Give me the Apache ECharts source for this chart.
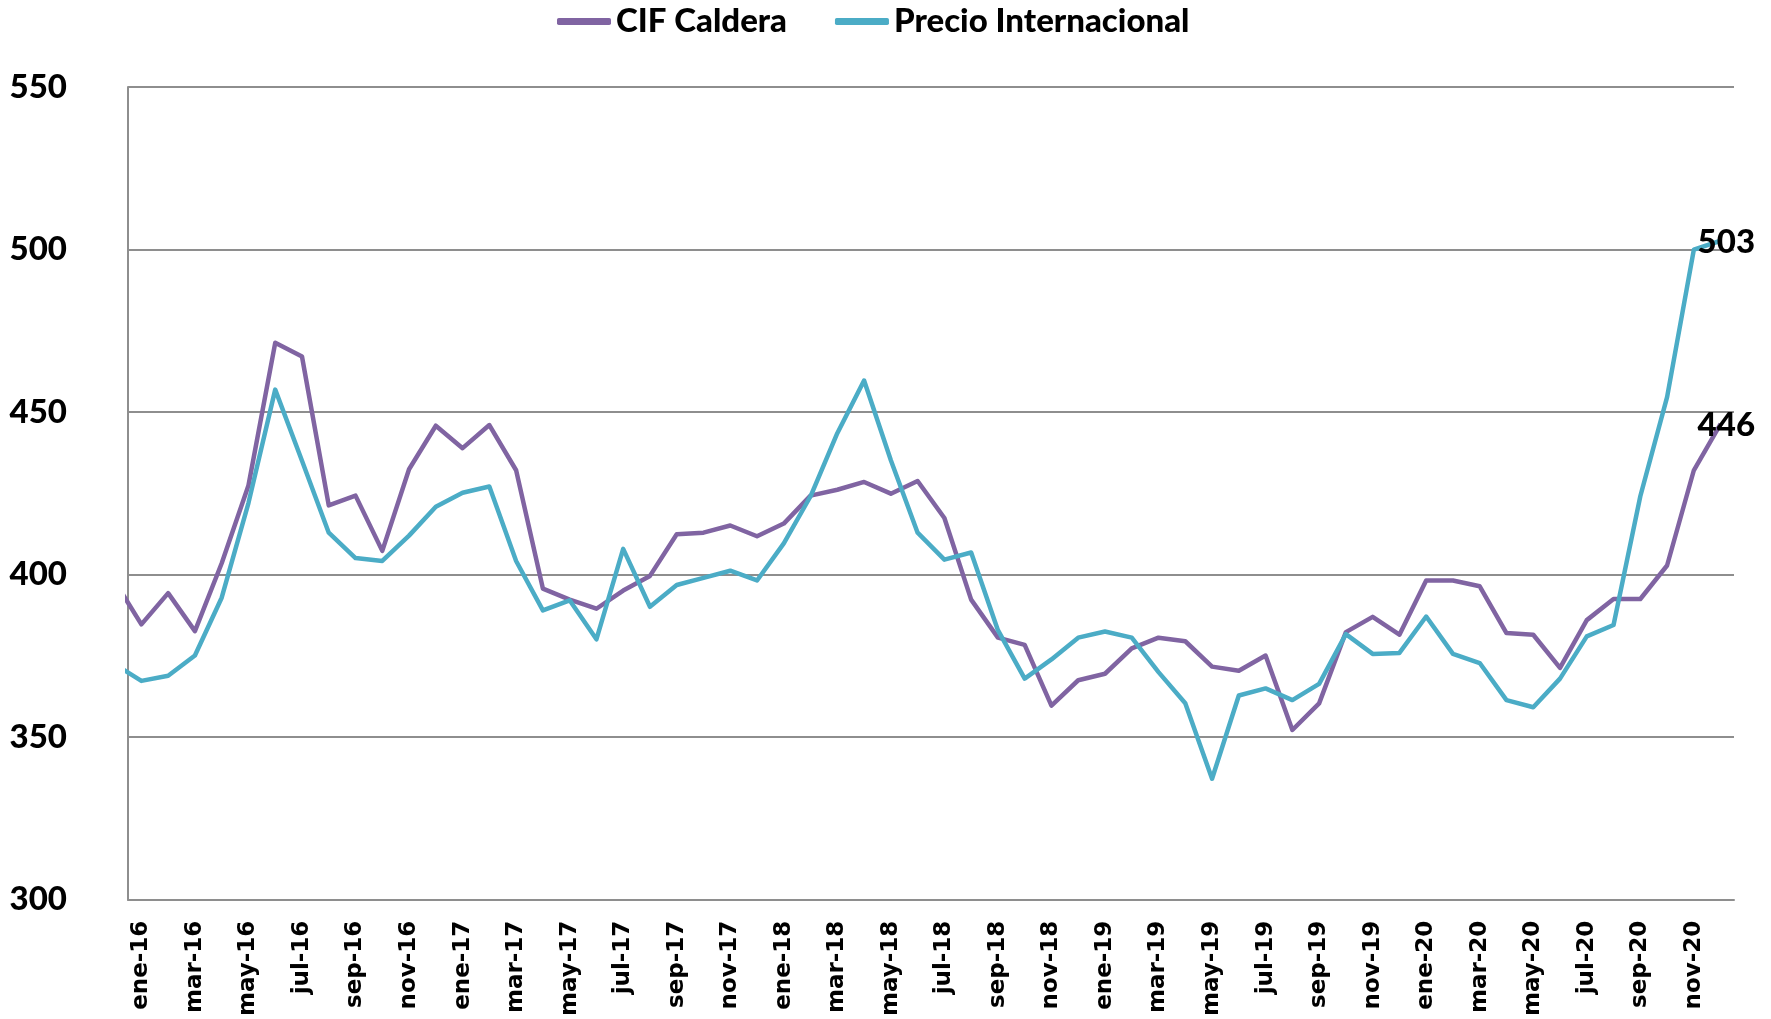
<!DOCTYPE html>
<html>
<head>
<meta charset="utf-8">
<script src="https://cdn.jsdelivr.net/npm/echarts@6/dist/echarts.min.js"></script>
<style>
  html, body { margin: 0; padding: 0; background: #ffffff; }
  #chart { width: 1771px; height: 1019px; }
</style>
</head>
<body>
<div id="chart"></div>
<script>
// Months: first entry (dic-15) lies just before the visible range and is clipped at the axis
const months = [
  'dic-15',
  'ene-16','feb-16','mar-16','abr-16','may-16','jun-16','jul-16','ago-16','sep-16','oct-16','nov-16','dic-16',
  'ene-17','feb-17','mar-17','abr-17','may-17','jun-17','jul-17','ago-17','sep-17','oct-17','nov-17','dic-17',
  'ene-18','feb-18','mar-18','abr-18','may-18','jun-18','jul-18','ago-18','sep-18','oct-18','nov-18','dic-18',
  'ene-19','feb-19','mar-19','abr-19','may-19','jun-19','jul-19','ago-19','sep-19','oct-19','nov-19','dic-19',
  'ene-20','feb-20','mar-20','abr-20','may-20','jun-20','jul-20','ago-20','sep-20','oct-20','nov-20','dic-20'
];

const cifCaldera = [
  398,
  384.7, 394.3, 382.6, 403.5, 427.4, 471.3, 467.1, 421.3, 424.3, 407.3, 432.4, 445.8,
  438.9, 446.0, 432.1, 395.7, 392.3, 389.5, 395.1, 399.6, 412.4, 412.9, 415.1, 411.8,
  415.7, 424.3, 426.1, 428.5, 424.9, 428.8, 417.4, 392.3, 380.6, 378.4, 359.7, 367.5,
  369.5, 377.3, 380.6, 379.5, 371.7, 370.4, 375.1, 352.2, 360.4, 382.3, 387.0, 381.5,
  398.2, 398.2, 396.4, 382.0, 381.5, 371.3, 386.0, 392.5, 392.5, 402.8, 432.1, 446.4
];

const precioInternacional = [
  372.5,
  367.3, 368.9, 375.1, 392.9, 422.0, 456.9, 435.0, 412.9, 405.1, 404.2, 412.0, 420.9,
  425.2, 427.1, 404.2, 389.0, 392.1, 380.1, 407.9, 390.1, 396.8, 399.0, 401.2, 398.2,
  409.6, 424.1, 443.5, 459.7, 435.2, 412.9, 404.6, 406.8, 382.9, 368.0, 373.9, 380.6,
  382.5, 380.6, 370.0, 360.4, 337.2, 362.8, 365.0, 361.4, 366.4, 381.7, 375.6, 375.9,
  387.1, 375.6, 372.8, 361.4, 359.2, 368.0, 381.0, 384.5, 424.1, 454.6, 500.0, 502.7
];

const seriesNames = ['CIF Caldera', 'Precio Internacional'];
const seriesColors = ['#8064A2', '#4BACC6'];
const yMin = 300, yMax = 550, yStep = 50;

// visible categories (ene-16 .. dic-20)
const visibleMonths = months.slice(1);

function toPoints(values) {
  const last = values.length - 1;
  return values.map(function (v, k) {
    const item = { value: [k - 1, v] };
    if (k === last) {
      item.label = { show: true };
    }
    return item;
  });
}

const endLabelStyle = {
  show: false,
  position: 'right',
  distance: 5,
  offset: [-28, 2],
  formatter: function (p) { return Math.round(p.value[1]); },
  fontFamily: 'Lato',
  fontWeight: 900,
  fontSize: 33,
  color: '#000000'
};

const chart = echarts.init(document.getElementById('chart'), null, { renderer: 'canvas' });

const option = {
  animation: false,
  backgroundColor: '#ffffff',
  legend: {
    data: seriesNames,
    left: 552,
    top: 0,
    itemWidth: 54,
    itemHeight: 7,
    itemGap: 48,
    icon: 'roundRect',
    textStyle: {
      fontFamily: 'Lato',
      fontWeight: 900,
      fontSize: 33,
      color: '#000000'
    }
  },
  grid: {
    left: 128,
    right: 37,
    top: 87,
    bottom: 116,
    containLabel: false
  },
  xAxis: [
    {
      type: 'category',
      data: visibleMonths,
      boundaryGap: true,
      axisLine: { show: true, lineStyle: { color: '#8e8e8e', width: 2 } },
      axisTick: { show: false },
      splitLine: { show: false },
      axisLabel: {
        interval: 1,
        rotate: 90,
        margin: 21,
        fontFamily: 'DejaVu Sans',
        fontWeight: 'bold',
        fontSize: 23,
        color: '#000000'
      }
    },
    {
      type: 'value',
      min: -0.5,
      max: visibleMonths.length - 0.5,
      show: false,
      axisLine: { show: false },
      splitLine: { show: false }
    }
  ],
  yAxis: {
    type: 'value',
    min: yMin,
    max: yMax,
    interval: yStep,
    axisLine: { show: true, onZero: false, lineStyle: { color: '#8e8e8e', width: 2 } },
    axisTick: { show: false },
    splitLine: { show: true, lineStyle: { color: '#8e8e8e', width: 2 } },
    axisLabel: {
      margin: 61,
      fontFamily: 'Lato',
      fontWeight: 900,
      fontSize: 33,
      color: '#000000'
    }
  },
  series: [
    {
      name: seriesNames[0],
      type: 'line',
      xAxisIndex: 1,
      data: toPoints(cifCaldera),
      symbol: 'circle',
      symbolSize: 0,
      showSymbol: true,
      clip: true,
      color: seriesColors[0],
      label: endLabelStyle,
      lineStyle: { width: 4.5, color: seriesColors[0], join: 'round' },
      z: 2
    },
    {
      name: seriesNames[1],
      type: 'line',
      xAxisIndex: 1,
      data: toPoints(precioInternacional),
      symbol: 'circle',
      symbolSize: 0,
      showSymbol: true,
      clip: true,
      color: seriesColors[1],
      label: endLabelStyle,
      lineStyle: { width: 4.5, color: seriesColors[1], join: 'round' },
      z: 3
    }
  ]
};

chart.setOption(option);
</script>
</body>
</html>
